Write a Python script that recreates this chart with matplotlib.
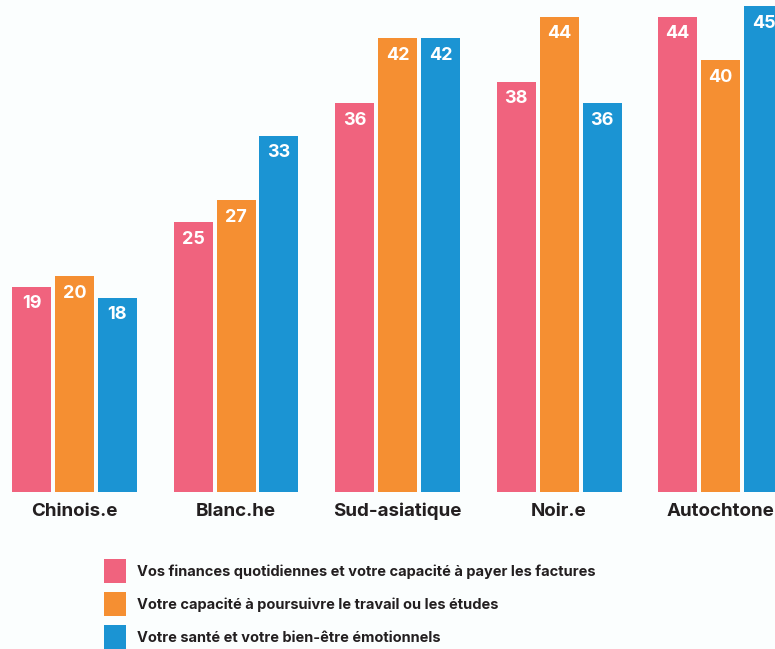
import matplotlib.pyplot as plt
import matplotlib.patches as mpatches
import numpy as np

# ---- data ----
groups = ["Chinois.e", "Blanc.he", "Sud-asiatique", "Noir.e", "Autochtone"]
finances = [19, 25, 36, 38, 44]
travail = [20, 27, 42, 44, 40]
sante = [18, 33, 42, 36, 45]
series_labels = [
    "Vos finances quotidiennes et votre capacité à payer les factures",
    "Votre capacité à poursuivre le travail ou les études",
    "Votre santé et votre bien-être émotionnels",
]

COLORS = ["#F0637E", "#F58F32", "#1B94D3"]
BG = "#FBFEFE"
TEXT = "#231F20"

plt.rcParams["font.family"] = ["Inter", "DejaVu Sans"]

W, H = 775, 649
fig = plt.figure(figsize=(W / 100, H / 100), dpi=100, facecolor=BG)

# axes: full width, baseline at y=492px from top
base_px = 492
ax = fig.add_axes([0, (H - base_px) / H, 1, base_px / H])
ax.set_facecolor(BG)

step_px = 161.5
bar_w = 39 / step_px
offset = 43 / step_px
first_center = 74.5
ax.set_xlim(-first_center / step_px, (W - first_center) / step_px)
ax.set_ylim(0, base_px / 10.8)

x = np.arange(len(groups))
for k, vals in enumerate([finances, travail, sante]):
    bars = ax.bar(x + (k - 1) * offset, vals, width=bar_w, color=COLORS[k], linewidth=0)
    for b, v in zip(bars, vals):
        ax.annotate(str(v), (b.get_x() + b.get_width() / 2, v),
                    xytext=(0, -17), textcoords="offset pixels",
                    ha="center", va="center", color="white",
                    fontsize=13, fontweight="bold")

# category labels on a common baseline
for xi, g in zip(x, groups):
    ax.text(xi, -24 / base_px, g, transform=ax.get_xaxis_transform(),
            ha="center", va="baseline", fontsize=13.5, fontweight="bold",
            color=TEXT, clip_on=False)

ax.set_xticks([])
ax.set_yticks([])
for s in ax.spines.values():
    s.set_visible(False)

# ---- legend (manual) ----
sq_x, sq_w, sq_h = 104, 22, 24
rows_top = [559, 592, 625]
for color, label, top in zip(COLORS, series_labels, rows_top):
    fig.patches.append(mpatches.Rectangle(
        (sq_x / W, (H - top - sq_h) / H), sq_w / W, sq_h / H,
        transform=fig.transFigure, facecolor=color, edgecolor="none"))
    fig.text(137 / W, (H - top - 13) / H, label, ha="left", va="center",
             fontsize=10.5, fontweight="bold", color=TEXT)

fig.savefig("out.png", dpi=100, facecolor=BG)
